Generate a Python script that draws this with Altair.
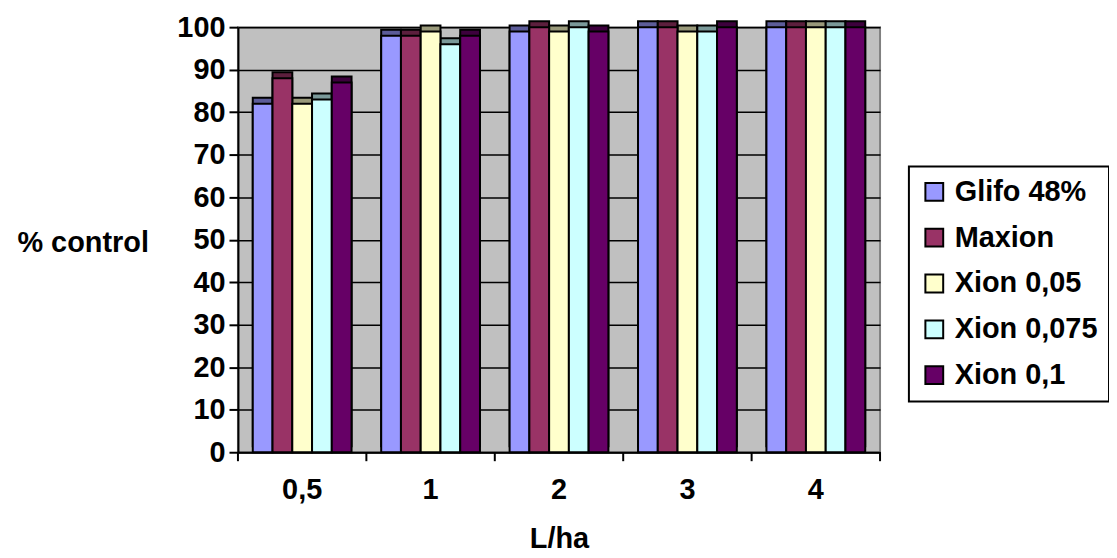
import altair as alt
import pandas as pd

categories = ["0,5", "1", "2", "3", "4"]
series = ["Glifo 48%", "Maxion", "Xion 0,05", "Xion 0,075", "Xion 0,1"]
glifo = [82, 98, 99, 100, 100]
maxion = [88, 98, 100, 100, 100]
xion005 = [82, 99, 99, 99, 100]
xion0075 = [83, 96, 100, 99, 100]
xion01 = [87, 98, 99, 100, 100]
y_ticks = [0, 10, 20, 30, 40, 50, 60, 70, 80, 90, 100]

colors = ["#9999FF", "#993366", "#FFFFCC", "#CCFFFF", "#660066"]
dark_colors = ["#5C5C99", "#5C1F3D", "#99997A", "#7A9999", "#3D003D"]

rows = []
for s, vals in zip(series, [glifo, maxion, xion005, xion0075, xion01]):
    for c, v in zip(categories, vals):
        rows.append({"L/ha": c, "series": s, "value": v})
df = pd.DataFrame(rows)

W, H = 645, 427
FONT = "Liberation Sans"
FS = 29

x_enc = alt.X("L/ha:N", sort=categories,
              scale=alt.Scale(paddingInner=0, paddingOuter=0),
              axis=alt.Axis(title="L/ha", labelAngle=0, ticks=False,
                            labelFontSize=FS, labelFontWeight="bold", labelFont=FONT,
                            labelPadding=23, titleFontSize=FS, titleFontWeight="bold",
                            titleFont=FONT, titlePadding=21, domainColor="black",
                            domainWidth=2, labelColor="black", titleColor="black"))
y_enc = alt.Y("value:Q", scale=alt.Scale(domain=[0, 100], nice=False),
              axis=alt.Axis(title="% control", values=y_ticks, labelOverlap=False,
                            labelFontSize=FS, labelFontWeight="bold",
                            labelFont=FONT, labelColor="black", tickColor="black",
                            tickSize=9, tickWidth=2, domainColor="black", domainWidth=2,
                            gridColor="black", gridWidth=1.5, labelPadding=4,
                            titleAngle=0, titleAlign="center", titleBaseline="middle",
                            titleX=-156, titleY=216, titleFontSize=FS,
                            titleFontWeight="bold", titleFont=FONT, titleColor="black"))
xoff = alt.XOffset("series:N", sort=series,
                   scale=alt.Scale(paddingOuter=0.75, paddingInner=0))

back = alt.Chart(df).mark_bar(xOffset=6, yOffset=-6, stroke="black", strokeWidth=2).encode(
    x=x_enc, y=y_enc, xOffset=xoff,
    color=alt.Color("series:N", sort=series,
                    scale=alt.Scale(domain=series, range=dark_colors), legend=None),
)

front = alt.Chart(df).mark_bar(stroke="black", strokeWidth=2).encode(
    x=x_enc, y=y_enc, xOffset=xoff,
    fill=alt.Fill("series:N", sort=series,
                  scale=alt.Scale(domain=series, range=colors),
                  legend=alt.Legend(title=None, orient="none", legendX=674, legendY=140,
                                    symbolType="square", symbolSize=320,
                                    symbolStrokeColor="black", symbolStrokeWidth=2,
                                    labelFontSize=FS, labelFontWeight="bold",
                                    labelFont=FONT, labelColor="black", rowPadding=16,
                                    labelOffset=6,
                                    strokeColor="black", fillColor="white", padding=11,
                                    labelLimit=300)),
)

tick_df = pd.DataFrame({"L/ha": categories})
ticks = alt.Chart(tick_df).mark_rule(color="black", strokeWidth=2).encode(
    x=alt.X("L/ha:N", sort=categories, bandPosition=0),
    y=alt.value(H), y2=alt.value(H + 9),
)
last_tick = alt.Chart(pd.DataFrame({"a": [1]})).mark_rule(color="black", strokeWidth=2).encode(
    x=alt.value(W), y=alt.value(H), y2=alt.value(H + 9),
)

chart = alt.layer(back, front, ticks, last_tick).resolve_scale(
    color="independent"
).properties(
    width=W, height=H,
    autosize=alt.AutoSizeParams(type="none"),
    padding={"left": 231, "top": 18, "right": 230, "bottom": 105},
    background="white",
).configure_view(fill="#C0C0C0", stroke="#808080", strokeWidth=2
).configure_legend(strokeWidth=2)

chart.save("out.html", embed_options={"renderer": "svg", "actions": False})
